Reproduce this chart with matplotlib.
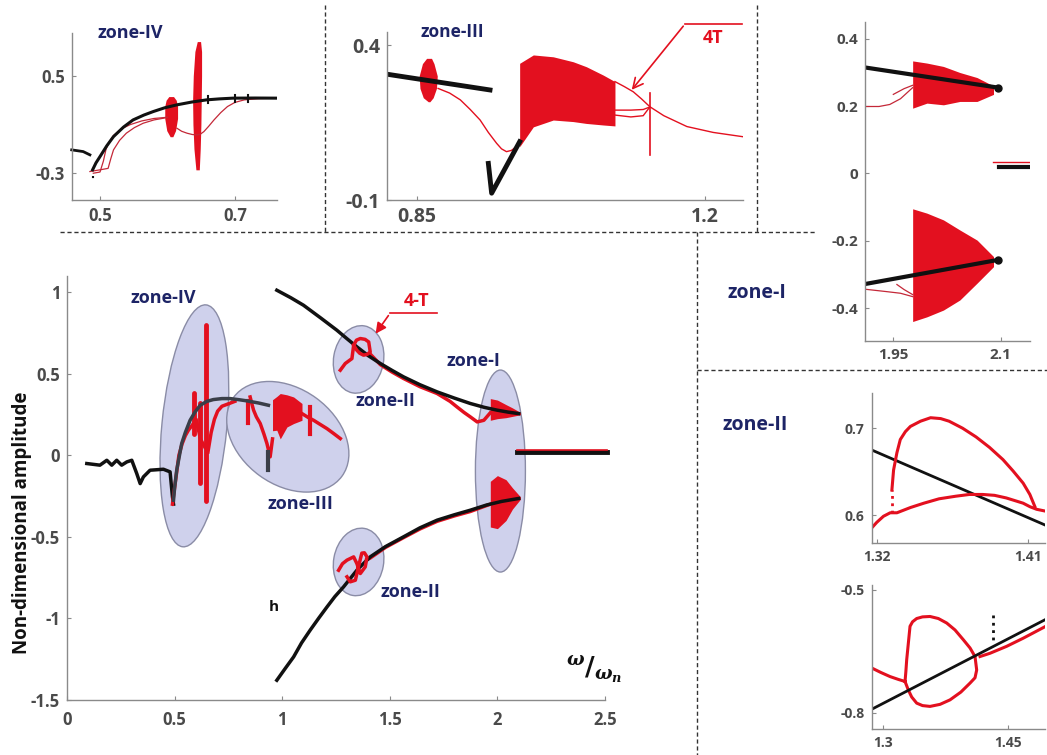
import numpy as np
import matplotlib
matplotlib.use("Agg")
import matplotlib.pyplot as plt
import matplotlib.transforms as mtransforms
from matplotlib.patches import Ellipse
from matplotlib.lines import Line2D

plt.rcParams['font.family'] = ['Open Sans', 'DejaVu Sans']
plt.rcParams['font.weight'] = 'bold'
plt.rcParams['mathtext.fontset'] = 'dejavuserif'

W, H = 1047, 755
RED = '#e3101f'
BLK = '#111111'
NAVY = '#1d2466'
GREY = '#8a8a8a'
TXT = '#4a4a4a'

# ---------------- main panel data ----------------
left_x = [0.092, 0.153, 0.185, 0.208, 0.231, 0.254, 0.278, 0.301, 0.324, 0.340, 0.355, 0.386, 0.448, 0.479, 0.490, 0.495]
left_y = [-0.051, -0.061, -0.031, -0.061, -0.031, -0.061, -0.041, -0.031, -0.112, -0.174, -0.133, -0.092, -0.086, -0.102, -0.255, -0.300]
rise_x = [0.495, 0.500, 0.510, 0.520, 0.533, 0.550, 0.572, 0.595, 0.619, 0.650, 0.680, 0.720, 0.758, 0.800, 0.836, 0.890, 0.936]
rise_y = [-0.276, -0.200, -0.090, -0.020, 0.072, 0.140, 0.214, 0.265, 0.306, 0.330, 0.341, 0.347, 0.347, 0.340, 0.333, 0.320, 0.306]
up_x = [0.975, 1.040, 1.099, 1.180, 1.254, 1.300, 1.347, 1.400, 1.456, 1.510, 1.564, 1.640, 1.720, 1.800, 1.874, 1.940, 1.999, 2.050, 2.099]
up_y = [1.011, 0.965, 0.919, 0.840, 0.766, 0.715, 0.664, 0.610, 0.562, 0.520, 0.480, 0.432, 0.388, 0.350, 0.317, 0.293, 0.276, 0.264, 0.255]
lo_x = [0.975, 1.015, 1.053, 1.090, 1.130, 1.170, 1.208, 1.245, 1.285, 1.350, 1.409, 1.480, 1.564, 1.640, 1.720, 1.800, 1.874, 1.950, 2.020, 2.099]
lo_y = [-1.379, -1.305, -1.236, -1.150, -1.072, -0.998, -0.930, -0.866, -0.807, -0.700, -0.623, -0.560, -0.500, -0.445, -0.398, -0.365, -0.337, -0.305, -0.283, -0.265]
flat_x = [2.09, 2.51]
flat_y = [0.02, 0.02]

# zone IV (main)
r4_x = [0.49, 0.50, 0.51, 0.52, 0.535, 0.55, 0.565, 0.58, 0.60, 0.62, 0.64]
r4_y = [-0.30, -0.20, -0.10, 0.00, 0.07, 0.12, 0.155, 0.18, 0.22, 0.10, 0.05]
r4b_x = [0.655, 0.67, 0.685, 0.70, 0.72, 0.74, 0.78]
r4b_y = [0.02, 0.14, 0.22, 0.27, 0.30, 0.31, 0.33]
spikes4 = [(0.590, 0.13, 0.38), (0.620, -0.17, 0.32), (0.645, -0.28, 0.80)]
# zone III (main)
r3a_x = [0.851, 0.860, 0.867, 0.880, 0.898, 0.915, 0.929, 0.944, 0.955]
r3a_y = [0.357, 0.31, 0.276, 0.235, 0.194, 0.13, 0.072, -0.01, 0.10]
b3_x = [0.955, 0.975, 0.991, 1.022, 1.053, 1.092]
b3_hi = [0.34, 0.36, 0.378, 0.37, 0.357, 0.317]
b3_lo = [0.15, 0.153, 0.10, 0.173, 0.194, 0.214]
r3b_x = [1.092, 1.120, 1.146, 1.175, 1.208, 1.240, 1.270]
r3b_y = [0.255, 0.232, 0.214, 0.190, 0.163, 0.132, 0.102]
spikes3 = [(0.84, 0.20, 0.33), (1.13, 0.133, 0.296)]
# zone II loops (main)
r2u_x = [1.270, 1.293, 1.324, 1.332, 1.345, 1.363, 1.385, 1.402, 1.409, 1.395, 1.378, 1.360, 1.347, 1.332]
r2u_y = [0.521, 0.562, 0.592, 0.674, 0.705, 0.715, 0.710, 0.694, 0.633, 0.618, 0.613, 0.625, 0.643, 0.674]
r2uf_x = [1.409, 1.456, 1.510, 1.564, 1.640, 1.720, 1.780, 1.812, 1.845, 1.874, 1.906, 1.937, 1.967]
r2uf_y = [0.620, 0.555, 0.510, 0.470, 0.420, 0.378, 0.330, 0.296, 0.262, 0.235, 0.204, 0.214, 0.26]
r2l_x = [1.262, 1.280, 1.301, 1.332, 1.347, 1.363, 1.386, 1.394, 1.382, 1.370, 1.355, 1.340, 1.316, 1.301]
r2l_y = [-0.705, -0.665, -0.643, -0.623, -0.664, -0.725, -0.684, -0.623, -0.598, -0.600, -0.68, -0.766, -0.776, -0.745]
r2lf_x = [1.394, 1.409, 1.480, 1.564, 1.640, 1.720, 1.800, 1.874, 1.967]
r2lf_y = [-0.64, -0.630, -0.565, -0.505, -0.452, -0.405, -0.372, -0.345, -0.30]
# zone I bursts (main)
b1_x = [1.967, 2.00, 2.04, 2.07, 2.107]
b1u_hi = [0.347, 0.338, 0.31, 0.29, 0.262]
b1u_lo = [0.214, 0.224, 0.23, 0.238, 0.248]
b1l_hi = [-0.16, -0.125, -0.15, -0.20, -0.255]
b1l_lo = [-0.44, -0.45, -0.40, -0.33, -0.27]

# ---------------- inset zone IV ----------------
i4_bk1_x = [0.458, 0.475, 0.485]
i4_bk1_y = [-0.108, -0.122, -0.149]
i4_bk2_x = [0.489, 0.494, 0.500, 0.510, 0.520, 0.535, 0.549, 0.565, 0.579, 0.596, 0.614, 0.636, 0.658, 0.677, 0.697, 0.730, 0.762]
i4_bk2_y = [-0.272, -0.215, -0.163, -0.075, 0.001, 0.080, 0.138, 0.178, 0.207, 0.238, 0.262, 0.285, 0.303, 0.311, 0.317, 0.318, 0.317]
i4_r1_x = [0.485, 0.500, 0.512, 0.516, 0.520, 0.529, 0.539, 0.551, 0.564, 0.580, 0.594, 0.600]
i4_r1_y = [-0.286, -0.272, -0.26, -0.18, -0.108, -0.03, 0.029, 0.075, 0.111, 0.138, 0.152, 0.16]
i4_r2_x = [0.490, 0.500, 0.505, 0.509, 0.514, 0.520, 0.532, 0.545, 0.562, 0.580, 0.600]
i4_r2_y = [-0.30, -0.29, -0.20, -0.10, -0.04, 0.01, 0.065, 0.10, 0.13, 0.15, 0.16]
i4_r3_x = [0.614, 0.621, 0.629, 0.637, 0.644, 0.649, 0.654, 0.661, 0.669, 0.679, 0.689, 0.700, 0.714, 0.735, 0.762]
i4_r3_y = [0.070, 0.045, 0.029, 0.018, 0.015, 0.022, 0.042, 0.085, 0.138, 0.198, 0.248, 0.282, 0.303, 0.313, 0.317]
i4_blob_y = [0.33, 0.30, 0.25, 0.15, 0.05, 0.0]
i4_blob_l = [0.602, 0.598, 0.596, 0.596, 0.599, 0.604]
i4_blob_r = [0.609, 0.613, 0.615, 0.615, 0.612, 0.608]
i4_spk_y = [0.782, 0.70, 0.50, 0.30, 0.10, -0.10, -0.272]
i4_spk_l = [0.6442, 0.6407, 0.6383, 0.6373, 0.6378, 0.6393, 0.6422]
i4_spk_r = [0.6491, 0.6506, 0.6506, 0.6501, 0.6496, 0.6486, 0.6472]
i4_ticks_x = [0.66, 0.70, 0.72]
i4_ticks_y = [0.305, 0.317, 0.317]

# ---------------- inset zone III ----------------
i3_bk1_x = [0.8136, 0.939]
i3_bk1_y = [0.306, 0.255]
i3_bk2_x = [0.937, 0.941, 0.975]
i3_bk2_y = [0.018, -0.078, 0.088]
i3_blob_y = [0.357, 0.34, 0.30, 0.26, 0.23, 0.217]
i3_blob_l = [0.862, 0.857, 0.853, 0.854, 0.858, 0.864]
i3_blob_r = [0.868, 0.871, 0.875, 0.874, 0.870, 0.866]
i3_r1_x = [0.876, 0.890, 0.903, 0.915, 0.927, 0.937, 0.947, 0.953, 0.959, 0.965, 0.971, 0.978]
i3_r1_y = [0.260, 0.245, 0.223, 0.192, 0.158, 0.118, 0.083, 0.065, 0.056, 0.060, 0.072, 0.100]
i3_bu_x = [0.975, 0.9916, 1.0158, 1.040, 1.056, 1.0765, 1.0907]
i3_bu_hi = [0.341, 0.368, 0.362, 0.346, 0.330, 0.303, 0.282]
i3_bu_lo = [0.072, 0.136, 0.158, 0.153, 0.147, 0.142, 0.139]
i3_r2_x = [1.0907, 1.102, 1.113, 1.123, 1.133, 1.150, 1.178, 1.210, 1.2465]
i3_r2_y = [0.282, 0.266, 0.249, 0.226, 0.201, 0.172, 0.137, 0.118, 0.104]
i3_r3_x = [1.0907, 1.11, 1.125, 1.133]
i3_r3_y = [0.190, 0.190, 0.192, 0.200]
i3_r4_x = [1.0907, 1.11, 1.125, 1.133]
i3_r4_y = [0.174, 0.168, 0.172, 0.200]
i3_vert_x = [1.133, 1.133]
i3_vert_y = [0.244, 0.045]

# ---------------- inset zone I ----------------
i1_bku_x = [1.9104, 2.0968]
i1_bku_y = [0.315, 0.255]
i1_bkl_x = [1.9104, 2.096]
i1_bkl_y = [-0.3286, -0.257]
i1_b_x = [1.977, 1.997, 2.020, 2.043, 2.067, 2.090]
i1_bu_hi = [0.3345, 0.328, 0.318, 0.300, 0.285, 0.260]
i1_bu_lo = [0.194, 0.209, 0.204, 0.214, 0.214, 0.235]
i1_bl_hi = [-0.105, -0.118, -0.138, -0.168, -0.198, -0.247]
i1_bl_lo = [-0.440, -0.426, -0.406, -0.376, -0.326, -0.277]
i1_ru_x = [1.9104, 1.930, 1.945, 1.960, 1.977]
i1_ru_y = [0.199, 0.199, 0.205, 0.222, 0.255]
i1_ru2_x = [1.950, 1.965, 1.977]
i1_ru2_y = [0.235, 0.252, 0.262]
i1_rl_x = [1.9104, 1.940, 1.960, 1.977]
i1_rl_y = [-0.344, -0.351, -0.356, -0.366]
i1_rl2_x = [1.955, 1.965, 1.977]
i1_rl2_y = [-0.330, -0.345, -0.360]
i1_zr_x = [2.0897, 2.141]
i1_zr_y = [0.035, 0.035]
i1_zk_x = [2.097, 2.141]
i1_zk_y = [0.02, 0.02]

# ---------------- inset zone II (upper) ----------------
i2u_bk_x = [1.317, 1.420]
i2u_bk_y = [0.675, 0.589]
i2u_lo_x = [1.317, 1.320, 1.324, 1.328, 1.332, 1.340, 1.348, 1.357, 1.367, 1.375, 1.383, 1.390, 1.397, 1.402, 1.407, 1.411, 1.415, 1.420]
i2u_lo_y = [0.5856, 0.592, 0.599, 0.603, 0.603, 0.609, 0.614, 0.619, 0.622, 0.624, 0.624, 0.623, 0.620, 0.617, 0.614, 0.610, 0.607, 0.605]
i2u_hi_x = [1.329, 1.330, 1.332, 1.334, 1.337, 1.340, 1.346, 1.352, 1.358, 1.363, 1.371, 1.379, 1.387, 1.395, 1.401, 1.407, 1.411, 1.414]
i2u_hi_y = [0.629, 0.652, 0.672, 0.687, 0.696, 0.702, 0.708, 0.712, 0.711, 0.708, 0.700, 0.690, 0.678, 0.664, 0.651, 0.637, 0.624, 0.610]
i2u_dot_x = [1.329, 1.329]
i2u_dot_y = [0.603, 0.629]

# ---------------- inset zone II (lower) ----------------
i2l_bk_x = [1.286, 1.494]
i2l_bk_y = [-0.792, -0.573]
i2l_in_x = [1.286, 1.297, 1.308, 1.318, 1.326]
i2l_in_y = [-0.691, -0.702, -0.712, -0.719, -0.724]
i2l_loop_x = [1.326, 1.327, 1.328, 1.330, 1.332, 1.335, 1.340, 1.347, 1.356, 1.366, 1.376, 1.386, 1.396, 1.404, 1.410, 1.412, 1.410, 1.404, 1.393, 1.380, 1.368, 1.356, 1.347, 1.340, 1.334, 1.330, 1.326]
i2l_loop_y = [-0.724, -0.700, -0.671, -0.630, -0.589, -0.578, -0.570, -0.566, -0.565, -0.570, -0.581, -0.598, -0.622, -0.642, -0.663, -0.696, -0.715, -0.728, -0.750, -0.769, -0.780, -0.785, -0.783, -0.777, -0.762, -0.745, -0.724]
i2l_out_x = [1.416, 1.428, 1.448, 1.468, 1.494]
i2l_out_y = [-0.663, -0.655, -0.638, -0.618, -0.590]
i2l_dot_x = [1.431, 1.431]
i2l_dot_y = [-0.561, -0.622]


def fpx(x, y):
    return x / W, 1 - y / H


def make_ax(x0, y0, x1, y1, xlim, ylim, xt, xtl, yt, ytl, fs):
    ax = fig.add_axes([x0 / W, 1 - y1 / H, (x1 - x0) / W, (y1 - y0) / H])
    ax.set_xlim(xlim)
    ax.set_ylim(ylim)
    for s in ['top', 'right']:
        ax.spines[s].set_visible(False)
    for s in ['left', 'bottom']:
        ax.spines[s].set_color(GREY)
        ax.spines[s].set_linewidth(1.0)
    ax.set_xticks(xt)
    ax.set_xticklabels(xtl, fontweight='bold')
    ax.set_yticks(yt)
    ax.set_yticklabels(ytl, fontweight='bold')
    ax.tick_params(direction='in', length=3, color=GREY, labelsize=fs,
                   labelcolor=TXT, pad=5)
    ax.patch.set_alpha(0)
    return ax


def oval(ax, cx, cy, w, h, ang):
    tr = fig.dpi_scale_trans + mtransforms.ScaledTranslation(cx, cy, ax.transData)
    ax.add_patch(Ellipse((0, 0), w / 100, h / 100, angle=ang, transform=tr,
                         fc='#cfd1ec', ec='#8a8ca6', lw=1.0, zorder=1))


def dash(x0, y0, x1, y1):
    fig.add_artist(Line2D([x0 / W, x1 / W], [1 - y0 / H, 1 - y1 / H],
                          transform=fig.transFigure, color='#333333',
                          lw=1.0, ls=(0, (3, 2))))


fig = plt.figure(figsize=(W / 100, H / 100), dpi=100)

# ---------------- main panel ----------------
ax = make_ax(67, 275.7, 605, 700, (0, 2.5), (-1.5, 1.1),
             [0, 0.5, 1, 1.5, 2, 2.5], ['0', '0.5', '1', '1.5', '2', '2.5'],
             [-1.5, -1, -0.5, 0, 0.5, 1], ['-1.5', '-1', '-0.5', '0', '0.5', '1'], 12)
ax.tick_params(axis='x', pad=8)
ax.set_ylabel('Non-dimensional amplitude', fontsize=13.5, fontweight='bold', color=BLK)
ax.yaxis.set_label_coords(-0.065, 0.417)

oval(ax, 0.592, 0.18, 65, 243, -5.5)
oval(ax, 1.026, 0.113, 134, 96, -36)
oval(ax, 1.355, 0.587, 50, 68, -10)
oval(ax, 1.355, -0.654, 50, 68, -10)
oval(ax, 2.014, -0.097, 50, 202, 0)

ax.plot(left_x, left_y, color=BLK, lw=2.5, zorder=3)
ax.plot(r4_x, r4_y, color=RED, lw=2.5, zorder=3)
ax.plot(r4b_x, r4b_y, color=RED, lw=2.5, zorder=3)
for sx, sy0, sy1 in spikes4:
    ax.plot([sx, sx], [sy0, sy1], color=RED, lw=3.5, zorder=3, solid_capstyle='round')
ax.plot(rise_x, rise_y, color='#3a3e48', lw=2.5, zorder=4)
ax.plot([0.935, 0.935], [0.02, -0.09], color='#3a3e48', lw=3, zorder=4)

ax.plot(r3a_x, r3a_y, color=RED, lw=2.5, zorder=3)
ax.fill_between(b3_x, b3_lo, b3_hi, color=RED, lw=0, zorder=3)
ax.plot(r3b_x, r3b_y, color=RED, lw=2.5, zorder=3)
for sx, sy0, sy1 in spikes3:
    ax.plot([sx, sx], [sy0, sy1], color=RED, lw=3, zorder=3)

ax.plot(r2uf_x, r2uf_y, color=RED, lw=2.5, zorder=3)
ax.plot(r2lf_x, r2lf_y, color=RED, lw=2.5, zorder=3)
ax.plot(up_x, up_y, color=BLK, lw=2.5, zorder=4)
ax.plot(lo_x, lo_y, color=BLK, lw=2.5, zorder=4)
ax.plot(r2u_x, r2u_y, color=RED, lw=2.5, zorder=5)
ax.plot(r2l_x, r2l_y, color=RED, lw=2.5, zorder=5)
ax.fill_between(b1_x, b1u_lo, b1u_hi, color=RED, lw=0, zorder=3)
ax.fill_between(b1_x, b1l_lo, b1l_hi, color=RED, lw=0, zorder=3)
ax.plot(flat_x, flat_y, color=BLK, lw=3.5, zorder=4, clip_on=False)
ax.plot(flat_x, [v + 0.012 for v in flat_y], color=RED, lw=1.2, zorder=5, clip_on=False)

ax.text(0.447, 0.962, 'zone-IV', color=NAVY, fontsize=13, ha='center', va='center')
ax.text(1.084, -0.30, 'zone-III', color=NAVY, fontsize=13, ha='center', va='center')
ax.text(1.479, 0.33, 'zone-II', color=NAVY, fontsize=13, ha='center', va='center')
ax.text(1.89, 0.58, 'zone-I', color=NAVY, fontsize=13, ha='center', va='center')
ax.text(1.595, -0.84, 'zone-II', color=NAVY, fontsize=13, ha='center', va='center')
ax.text(0.96, -0.93, 'h', color=BLK, fontsize=11, ha='center', va='center')

fig.text(*fpx(566, 670), r'$^{\omega}/_{\omega_n}$', fontsize=19, color=BLK, ha='left', va='center')
fig.add_artist(Line2D([390 / W, 437 / W], [1 - 313.3 / H] * 2, transform=fig.transFigure, color=RED, lw=1.2))
ax.annotate('', xy=fpx(374, 336), xycoords='figure fraction',
            xytext=fpx(390, 313.3), textcoords='figure fraction',
            arrowprops=dict(arrowstyle='-|>', color=RED, lw=1.2, mutation_scale=16))
fig.text(*fpx(417, 301), '4-T', color=RED, fontsize=13, ha='center', va='center')

# ---------------- inset zone IV ----------------
a4 = make_ax(71.7, 33.3, 276.7, 200, (0.458, 0.762), (-0.52, 0.85),
             [0.5, 0.7], ['0.5', '0.7'], [-0.3, 0.5], ['-0.3', '0.5'], 12)
a4.plot(i4_bk1_x, i4_bk1_y, color=BLK, lw=2, clip_on=False)
a4.plot(i4_r1_x, i4_r1_y, color='#c42838', lw=0.9)
a4.plot(i4_r2_x, i4_r2_y, color='#c42838', lw=0.9)
a4.plot(i4_r3_x, i4_r3_y, color='#c42838', lw=0.9)
a4.fill_betweenx(i4_blob_y, i4_blob_l, i4_blob_r, color=RED, lw=0)
a4.fill_betweenx(i4_spk_y, i4_spk_l, i4_spk_r, color=RED, lw=0)
a4.plot(i4_bk2_x, i4_bk2_y, color=BLK, lw=2.2)
for tx, ty in zip(i4_ticks_x, i4_ticks_y):
    a4.plot([tx, tx], [ty - 0.03, ty + 0.03], color=BLK, lw=1.5)
a4.plot([0.49, 0.49], [-0.32, -0.36], color=BLK, lw=1.5, ls=':')
fig.text(*fpx(130, 33), 'zone-IV', color=NAVY, fontsize=13, ha='center', va='center')

# ---------------- inset zone III ----------------
a3 = make_ax(386.7, 31.7, 743.3, 200, (0.8136, 1.2465), (-0.1, 0.443),
             [0.85, 1.2], ['0.85', '1.2'], [-0.1, 0.4], ['-0.1', '0.4'], 14)
a3.fill_betweenx(i3_blob_y, i3_blob_l, i3_blob_r, color=RED, lw=0)
a3.plot(i3_r1_x, i3_r1_y, color=RED, lw=1.0)
a3.fill_between(i3_bu_x, i3_bu_lo, i3_bu_hi, color=RED, lw=0)
a3.plot(i3_r2_x, i3_r2_y, color=RED, lw=1.0)
a3.plot(i3_r3_x, i3_r3_y, color=RED, lw=1.0)
a3.plot(i3_r4_x, i3_r4_y, color=RED, lw=1.0)
a3.plot(i3_vert_x, i3_vert_y, color=RED, lw=1.2)
a3.plot(i3_bk1_x, i3_bk1_y, color=BLK, lw=3.5)
a3.plot(i3_bk2_x, i3_bk2_y, color=BLK, lw=3.5)
fig.text(*fpx(452, 32), 'zone-III', color=NAVY, fontsize=12.5, ha='center', va='center')
fig.add_artist(Line2D([685 / W, 741.7 / W], [1 - 24 / H] * 2, transform=fig.transFigure, color=RED, lw=1.2))
a3.annotate('', xy=fpx(630, 92), xycoords='figure fraction',
            xytext=fpx(685, 24), textcoords='figure fraction',
            arrowprops=dict(arrowstyle='->', color=RED, lw=1.2, mutation_scale=18))
fig.text(*fpx(713, 38), '4T', color=RED, fontsize=13, ha='center', va='center')

# ---------------- inset zone I ----------------
a1 = make_ax(865, 21.7, 1030, 340.7, (1.9104, 2.141), (-0.497, 0.451),
             [1.95, 2.1], ['1.95', '2.1'], [-0.4, -0.2, 0, 0.2, 0.4],
             ['-0.4', '-0.2', '0', '0.2', '0.4'], 11)
a1.plot(i1_ru_x, i1_ru_y, color='#c42838', lw=0.9)
a1.plot(i1_ru2_x, i1_ru2_y, color='#c42838', lw=0.9)
a1.plot(i1_rl_x, i1_rl_y, color='#c42838', lw=0.9)
a1.plot(i1_rl2_x, i1_rl2_y, color='#c42838', lw=0.9)
a1.fill_between(i1_b_x, i1_bu_lo, i1_bu_hi, color=RED, lw=0)
a1.fill_between(i1_b_x, i1_bl_lo, i1_bl_hi, color=RED, lw=0)
a1.plot(i1_bku_x, i1_bku_y, color=BLK, lw=3)
a1.plot(i1_bkl_x, i1_bkl_y, color=BLK, lw=3)
a1.plot([i1_bku_x[-1], i1_bkl_x[-1]], [i1_bku_y[-1], i1_bkl_y[-1]], 'o', color=BLK, ms=5, ls='none')
a1.plot(i1_zr_x, i1_zr_y, color=RED, lw=1.0)
a1.plot(i1_zk_x, i1_zk_y, color=BLK, lw=3)
fig.text(*fpx(757, 293), 'zone-I', color=NAVY, fontsize=14, ha='center', va='center')

# ---------------- inset zone II ----------------
a2u = make_ax(871.7, 393.3, 1045, 543.3, (1.317, 1.42), (0.568, 0.74),
              [1.32, 1.41], ['1.32', '1.41'], [0.6, 0.7], ['0.6', '0.7'], 10)
a2u.plot(i2u_bk_x, i2u_bk_y, color=BLK, lw=2)
a2u.plot(i2u_lo_x, i2u_lo_y, color=RED, lw=2.2)
a2u.plot(i2u_hi_x, i2u_hi_y, color=RED, lw=2.2)
a2u.plot(i2u_dot_x, i2u_dot_y, color=RED, lw=2, ls=':')

a2l = make_ax(871.7, 585, 1045, 729.3, (1.286, 1.494), (-0.841, -0.488),
              [1.3, 1.45], ['1.3', '1.45'], [-0.8, -0.5], ['-0.8', '-0.5'], 10)
a2l.plot(i2l_in_x, i2l_in_y, color=RED, lw=2.2)
a2l.plot(i2l_loop_x, i2l_loop_y, color=RED, lw=2.2)
a2l.plot(i2l_out_x, i2l_out_y, color=RED, lw=2.2)
a2l.plot(i2l_bk_x, i2l_bk_y, color=BLK, lw=2)
a2l.plot(i2l_dot_x, i2l_dot_y, color=BLK, lw=2, ls=':')
fig.text(*fpx(755, 425), 'zone-II', color=NAVY, fontsize=14, ha='center', va='center')

# ---------------- separators ----------------
dash(60, 232, 815, 232)
dash(325, 5, 325, 232)
dash(757, 5, 757, 232)
dash(697, 232, 697, 755)
dash(697, 370, 1047, 370)

fig.savefig('out.png', dpi=100)
